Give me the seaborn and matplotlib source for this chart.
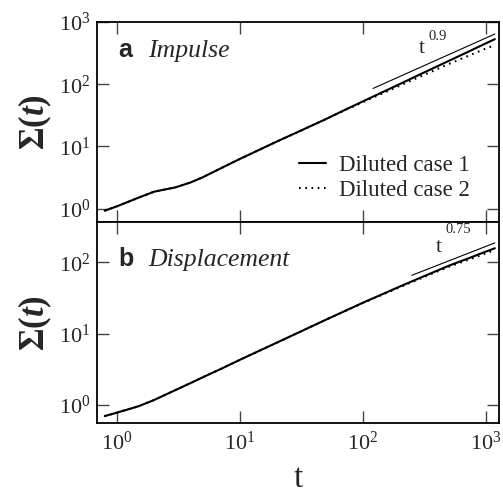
import matplotlib

matplotlib.use("Agg")
import matplotlib.pyplot as plt
import pandas as pd
import seaborn as sns
from matplotlib.ticker import LogLocator, NullLocator


# values (log-log curves)
T = [0.8, 1, 1.5, 2, 2.5, 3, 4, 5, 7, 10, 20, 30, 50, 70, 100, 200, 300, 500, 700, 1000, 1180]

IMPULSE_CASE1 = [0.93, 1.09, 1.5, 1.87, 2.05, 2.2, 2.65, 3.2, 4.45, 6.3, 12.0, 17.3, 27.5, 38,
                 53, 101, 148, 238, 325, 455, 530]
IMPULSE_CASE2 = [0.93, 1.09, 1.5, 1.87, 2.05, 2.2, 2.65, 3.2, 4.45, 6.3, 12.0, 17.3, 27.5, 37.6,
                 51.5, 95, 136, 212, 280, 375, 425]

DISP_CASE1 = [0.70, 0.78, 0.96, 1.17, 1.40, 1.62, 2.04, 2.45, 3.2, 4.3, 7.5, 10.4, 15.7, 20.5,
              27.2, 46, 62, 90, 112, 142, 158]
DISP_CASE2 = [0.70, 0.78, 0.96, 1.17, 1.40, 1.62, 2.04, 2.45, 3.2, 4.3, 7.5, 10.4, 15.7, 20.4,
              27.0, 45, 60.5, 87, 107, 134, 150]

# power-law guide lines (end points)
IMPULSE_GUIDE_T = [121, 1180]
IMPULSE_GUIDE_Y = [85.6, 641]
DISP_GUIDE_T = [250, 1180]
DISP_GUIDE_Y = [66, 188]

CASES = ["Diluted case 1", "Diluted case 2"]

SERIF = "Liberation Serif"
SANS = "Liberation Sans"


def long_frame(case1, case2):
    n = len(T)
    return pd.DataFrame({
        "t": T + T,
        "sigma": case1 + case2,
        "case": [CASES[0]] * n + [CASES[1]] * n,
    })


def draw_panel(ax, df, guide_t, guide_y, show_legend):
    sns.lineplot(data=df, x="t", y="sigma", hue="case", style="case",
                 palette=["black", "black"],
                 dashes={CASES[0]: "", CASES[1]: (0.8, 2.2)},
                 linewidth=1.5, ax=ax, legend=show_legend, sort=True)
    ax.plot(guide_t, guide_y, color="black", lw=0.8)

    ax.set_xscale("log")
    ax.set_yscale("log")
    ax.xaxis.set_major_locator(LogLocator(base=10, numticks=10))
    ax.yaxis.set_major_locator(LogLocator(base=10, numticks=10))
    ax.xaxis.set_minor_locator(NullLocator())
    ax.yaxis.set_minor_locator(NullLocator())
    ax.tick_params(which="major", direction="in", length=8.5, width=1.0, color="#444444",
                   top=True, right=True, labelsize=16)
    ax.tick_params(axis="x", pad=6)
    ax.tick_params(axis="y", pad=5)
    for spine in ax.spines.values():
        spine.set_linewidth(1.3)
        spine.set_color("black")
    ax.set_xlabel("")
    ax.set_ylabel(r"$\mathbf{\Sigma(}\mathbfit{t}\mathbf{)}$", fontsize=25)
    ax.yaxis.set_label_coords(-0.107, 0.5)


def main() -> None:
    sns.set_style("ticks")
    plt.rcParams["font.family"] = [SERIF, "DejaVu Sans"]
    plt.rcParams["mathtext.fontset"] = "custom"
    plt.rcParams["mathtext.rm"] = SERIF
    plt.rcParams["mathtext.it"] = SERIF + ":italic"
    plt.rcParams["mathtext.bf"] = SERIF + ":bold"
    plt.rcParams["mathtext.bfit"] = SERIF + ":italic:bold"

    fig, (ax_top, ax_bot) = plt.subplots(2, 1, sharex=True, figsize=(5.03, 4.93), dpi=100)
    fig.subplots_adjust(left=0.1934, right=0.9926, top=0.9554, bottom=0.1420, hspace=0)

    draw_panel(ax_top, long_frame(IMPULSE_CASE1, IMPULSE_CASE2),
               IMPULSE_GUIDE_T, IMPULSE_GUIDE_Y, True)
    draw_panel(ax_bot, long_frame(DISP_CASE1, DISP_CASE2),
               DISP_GUIDE_T, DISP_GUIDE_Y, False)

    ax_top.set_xlim(0.696, 1282)
    ax_top.set_ylim(0.601, 1000)
    ax_bot.set_ylim(0.56, 363)
    ax_top.tick_params(labelbottom=False)

    handles, labels = ax_top.get_legend_handles_labels()
    keep = [(h, l) for h, l in zip(handles, labels) if l in CASES]
    ax_top.legend([h for h, _ in keep], [l for _, l in keep], loc="center",
                  bbox_to_anchor=(0.715, 0.222), frameon=False, fontsize=16.5,
                  handlelength=1.18, handletextpad=0.57, labelspacing=0.15,
                  borderpad=0, borderaxespad=0)

    ax_bot.set_xlabel("t", fontsize=24)
    ax_bot.xaxis.label.set_va("baseline")
    ax_bot.xaxis.set_label_coords(0.5, -0.318)

    # panel titles
    ax_top.text(0.052, 0.825, "a", transform=ax_top.transAxes, fontsize=18,
                fontweight="bold", family=SANS, va="baseline")
    ax_top.text(0.127, 0.825, "Impulse", transform=ax_top.transAxes, fontsize=18.5,
                style="italic", va="baseline")
    ax_bot.text(0.052, 0.781, "b", transform=ax_bot.transAxes, fontsize=18,
                fontweight="bold", family=SANS, va="baseline")
    ax_bot.text(0.127, 0.781, "Displacement", transform=ax_bot.transAxes, fontsize=18.5,
                style="italic", va="baseline")

    # exponent labels
    ax_top.text(0.801, 0.845, "t", transform=ax_top.transAxes, fontsize=15.5, va="baseline")
    ax_top.text(0.823, 0.91, "0.9", transform=ax_top.transAxes, fontsize=10.5, va="baseline")
    ax_bot.text(0.843, 0.851, "t", transform=ax_bot.transAxes, fontsize=15.5, va="baseline")
    ax_bot.text(0.866, 0.950, "0.75", transform=ax_bot.transAxes, fontsize=10.5, va="baseline")

    fig.savefig("out.png", dpi=100)
    plt.close(fig)


if __name__ == "__main__":
    main()
